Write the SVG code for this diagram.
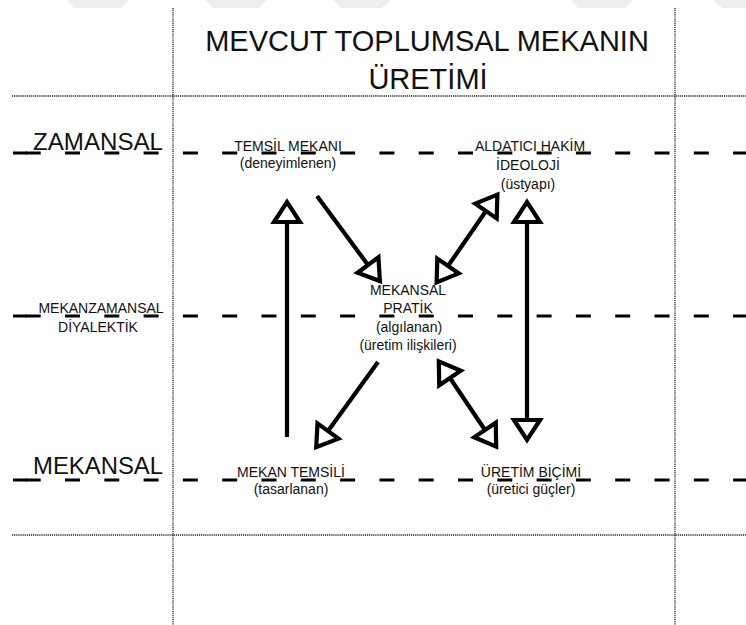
<svg xmlns="http://www.w3.org/2000/svg" width="746" height="625" viewBox="0 0 746 625">
<style>
text{font-family:"Liberation Sans",Arial,sans-serif;fill:#111}
.title{font-size:29px;text-anchor:middle}
.axis{font-size:24px}
.lbl{font-size:14px;text-anchor:middle}
.grid{stroke:#222;stroke-width:1.3;stroke-dasharray:1.2 0.9;fill:none}
.dash{stroke:#000;stroke-width:3;stroke-dasharray:15 24.3;fill:none}
.tick{stroke:#000;stroke-width:3}
.arr{stroke:#000;stroke-width:4.2;fill:none}
.wm{fill:#eeeeee}
</style>
<defs>
<marker id="head" markerUnits="userSpaceOnUse" markerWidth="40" markerHeight="40" refX="0" refY="15" orient="auto-start-reverse" style="overflow:visible">
<path d="M0,2 L20,15 L0,28 Z" fill="#fff" stroke="#000" stroke-width="4.2" stroke-linejoin="miter"/>
</marker>
</defs>
<rect width="746" height="625" fill="#fff"/>
<g id="watermark">
<polygon class="wm" points="67,0 129,0 121,8 75,8"/>
<polygon class="wm" points="205,0 267,0 259,8 213,8"/>
<polygon class="wm" points="333,0 390,0 382,8 341,8"/>
<polygon class="wm" points="571,0 633,0 625,8 579,8"/>
<polygon class="wm" points="714,0 746,0 746,8 722,8"/>
</g>
<g id="grid">
<line class="grid" x1="173" y1="8" x2="173" y2="625"/>
<line class="grid" x1="675" y1="8" x2="675" y2="625"/>
<line class="grid" x1="12" y1="96" x2="746" y2="96"/>
<line class="grid" x1="12" y1="535" x2="746" y2="535"/>
</g>
<g id="levels">
<line class="dash" x1="25.7" y1="153" x2="746" y2="153"/>
<line class="tick" x1="13" y1="153" x2="27" y2="153"/>
<line class="dash" x1="25.7" y1="316" x2="746" y2="316"/>
<line class="tick" x1="13" y1="316" x2="27" y2="316"/>
<line class="dash" x1="25.7" y1="480" x2="746" y2="480"/>
<line class="tick" x1="13" y1="480" x2="27" y2="480"/>
</g>
<g id="title">
<text class="title" x="427" y="51">MEVCUT TOPLUMSAL MEKANIN</text>
<text class="title" x="428" y="89">ÜRETİMİ</text>
</g>
<g id="axis-zamansal"><text class="axis" x="33" y="150" textLength="130" lengthAdjust="spacingAndGlyphs">ZAMANSAL</text></g>
<g id="axis-mekanzamansal">
<text class="lbl" x="101" y="313">MEKANZAMANSAL</text>
<text class="lbl" x="98" y="332">DİYALEKTİK</text>
</g>
<g id="axis-mekansal"><text class="axis" x="33" y="474" textLength="130" lengthAdjust="spacingAndGlyphs">MEKANSAL</text></g>
<g id="node-temsil-mekani">
<text class="lbl" x="288" y="151">TEMSİL MEKANI</text>
<text class="lbl" x="288" y="168">(deneyimlenen)</text>
</g>
<g id="node-aldatici">
<text class="lbl" x="530" y="151">ALDATICI HAKİM</text>
<text class="lbl" x="528" y="170">İDEOLOJİ</text>
<text class="lbl" x="528" y="189">(üstyapı)</text>
</g>
<g id="node-mekansal-pratik">
<text class="lbl" x="408" y="295">MEKANSAL</text>
<text class="lbl" x="408" y="313">PRATİK</text>
<text class="lbl" x="409" y="332">(algılanan)</text>
<text class="lbl" x="408" y="350">(üretim ilişkileri)</text>
</g>
<g id="node-mekan-temsili">
<text class="lbl" x="291" y="477">MEKAN TEMSİLİ</text>
<text class="lbl" x="291" y="494">(tasarlanan)</text>
</g>
<g id="node-uretim-bicimi">
<text class="lbl" x="531" y="477">ÜRETİM BİÇİMİ</text>
<text class="lbl" x="531" y="494">(üretici güçler)</text>
</g>
<g id="connectors">
<line class="arr" x1="287" y1="437" x2="287" y2="222" marker-end="url(#head)"/>
<line class="arr" x1="317" y1="196" x2="368" y2="265" marker-end="url(#head)"/>
<line class="arr" x1="448" y1="266" x2="486" y2="211" marker-start="url(#head)" marker-end="url(#head)"/>
<line class="arr" x1="527" y1="222" x2="527" y2="420" marker-start="url(#head)" marker-end="url(#head)"/>
<line class="arr" x1="378" y1="362" x2="328" y2="431" marker-end="url(#head)"/>
<line class="arr" x1="450" y1="378" x2="485" y2="430" marker-start="url(#head)" marker-end="url(#head)"/>
</g>
</svg>
